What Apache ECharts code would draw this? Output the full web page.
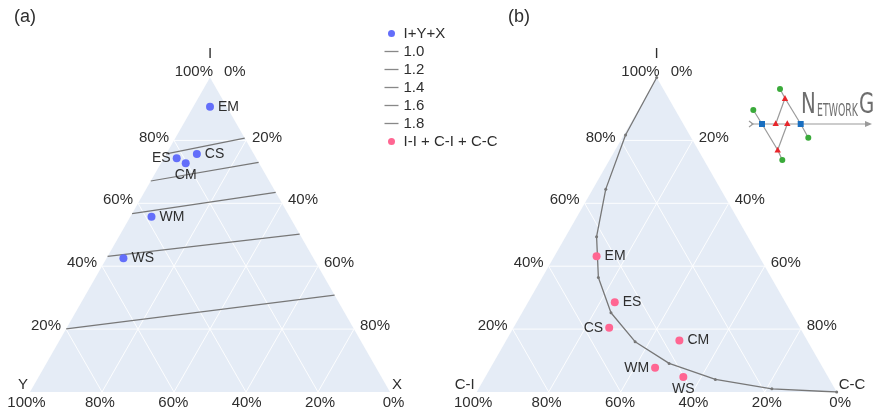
<!DOCTYPE html>
<html>
<head>
<meta charset="utf-8">
<title>Ternary plots</title>
<script src="https://cdn.jsdelivr.net/npm/echarts@6/dist/echarts.min.js"></script>
<style>
  html, body { margin: 0; padding: 0; background: #fff; }
  #chart { width: 891px; height: 414px; }
</style>
</head>
<body>
<div id="chart"></div>
<script>
// sites, same order in both panels
const sites = ['EM', 'CS', 'ES', 'CM', 'WM', 'WS'];

// panel (a): I, Y, X shares (%)
const siteI_a = [90.7, 75.7, 74.3, 72.7, 55.7, 42.5];
const siteY_a = [4.65, 15.8, 22.1, 20.4, 38.4, 52.8];
const siteX_a = [4.65, 8.5, 3.6, 6.9, 5.9, 4.7];

// contour lines of (a): I share where each line meets the left edge (X=0) and the right edge (Y=0)
const contourNames = ['1.0', '1.2', '1.4', '1.6', '1.8'];
const contourLeftI = [75.7, 67.1, 56.7, 43.1, 20.1];
const contourRightI = [80.7, 73.0, 63.5, 50.2, 30.8];

// panel (b): I-I, C-I, C-C shares (%)
const siteII_b = [43.2, 20.4, 28.5, 16.4, 7.7, 4.8];
const siteCI_b = [45.1, 53.0, 47.4, 35.5, 46.6, 40.2];
const siteCC_b = [11.7, 26.6, 24.1, 48.1, 45.7, 55.0];

// reference curve of (b)
const curveII = [100, 81.7, 64.5, 49.4, 36.4, 25.2, 16.0, 9.1, 4.0, 1.0, 0];
const curveCI = [0, 17.8, 31.9, 42.0, 48.0, 50.1, 48.0, 42.0, 31.7, 17.5, 0];
const curveCC = [0, 0.5, 3.6, 8.6, 15.6, 24.7, 36.0, 48.9, 64.3, 81.5, 100];

// axis ticks (%)
const topTicks = [20, 40, 60, 80, 100];
const leftTicks = [0, 20, 40, 60, 80, 100];
const rightTicks = [0, 20, 40, 60, 80];
const gridSteps = [20, 40, 60, 80];

const axisNamesA = ['I', 'Y', 'X'];
const axisNamesB = ['I', 'C-I', 'C-C'];

const H = Math.sqrt(3) / 2;
const FONT = 'Liberation Sans, Arial, sans-serif';
const TXT = '#2e2e2e';

// ternary (top, left, right) -> cartesian (x, y) of a unit triangle
function tern(a, b, c) {
  const s = a + b + c;
  return [(c + a / 2) / s, (a / s) * H];
}

function frameSeries(gi, names) {
  return {
    type: 'custom',
    xAxisIndex: gi,
    yAxisIndex: gi,
    silent: true,
    clip: false,
    z: 0,
    data: [[0, 0]],
    renderItem: function (params, api) {
      const p = v => api.coord(v);
      const kids = [];
      kids.push({
        type: 'polygon',
        shape: { points: [p(tern(1, 0, 0)), p(tern(0, 1, 0)), p(tern(0, 0, 1))] },
        style: { fill: '#e5ecf6' }
      });
      const seg = (u, v) => {
        const a = p(u), b = p(v);
        kids.push({
          type: 'line',
          shape: { x1: a[0], y1: a[1], x2: b[0], y2: b[1] },
          style: { stroke: 'rgba(255,255,255,0.9)', lineWidth: 1 }
        });
      };
      gridSteps.forEach(t => {
        seg(tern(t, 100 - t, 0), tern(t, 0, 100 - t));
        seg(tern(0, t, 100 - t), tern(100 - t, t, 0));
        seg(tern(0, 100 - t, t), tern(100 - t, 0, t));
      });
      const txt = (s, xy, dx, dy, align) => kids.push({
        type: 'text',
        style: {
          text: s, x: xy[0] + dx, y: xy[1] + dy, align: align, verticalAlign: 'middle',
          fontSize: 15, fontFamily: FONT, fill: TXT
        }
      });
      topTicks.forEach(t => {
        const xy = p(tern(t, 100 - t, 0));
        if (t === 100) txt(t + '%', xy, 3, -6, 'right');
        else txt(t + '%', xy, -5, -3, 'right');
      });
      leftTicks.forEach(t => {
        const xy = p(tern(0, t, 100 - t));
        txt(t + '%', xy, (50 - t) / 100 * 7, 11, 'center');
      });
      rightTicks.forEach(t => {
        const xy = p(tern(100 - t, 0, t));
        if (t === 0) txt(t + '%', xy, 14, -6, 'left');
        else txt(t + '%', xy, 6, -3, 'left');
      });
      txt(names[0], p(tern(1, 0, 0)), 0, -23.5, 'center');
      txt(names[1], p(tern(0, 1, 0)), -2, -7, 'right');
      txt(names[2], p(tern(0, 0, 1)), 2, -7, 'left');
      return { type: 'group', children: kids };
    }
  };
}

const labelPosA = { EM: 'right', CS: 'right', ES: 'left', CM: 'bottom', WM: 'right', WS: 'right' };
const labelPosB = { EM: 'right', CS: 'left', ES: 'right', CM: 'right', WM: 'left', WS: 'bottom' };
const labelDist = { right: 4, left: 2, bottom: 1 };

function siteData(tA, tB, tC, posMap) {
  return sites.map((s, i) => ({
    name: s,
    value: tern(tA[i], tB[i], tC[i]),
    label: { position: posMap[s], distance: labelDist[posMap[s]] }
  }));
}

const pointLabel = { show: true, formatter: '{b}', fontSize: 14, color: TXT, fontFamily: FONT };

const series = [
  frameSeries(0, axisNamesA),
  frameSeries(1, axisNamesB)
];

contourNames.forEach((n, i) => {
  series.push({
    name: n,
    type: 'line',
    xAxisIndex: 0,
    yAxisIndex: 0,
    symbol: 'none',
    silent: true,
    z: 3,
    data: [
      tern(contourLeftI[i], 100 - contourLeftI[i], 0),
      tern(contourRightI[i], 0, 100 - contourRightI[i])
    ],
    lineStyle: { color: '#777', width: 1.2 },
    itemStyle: { color: '#888' }
  });
});

series.push({
  name: 'I+Y+X',
  type: 'scatter',
  xAxisIndex: 0,
  yAxisIndex: 0,
  symbolSize: 8,
  z: 5,
  itemStyle: { color: '#636efa', opacity: 1 },
  label: pointLabel,
  data: siteData(siteI_a, siteY_a, siteX_a, labelPosA)
});

series.push({
  name: 'curve',
  type: 'line',
  xAxisIndex: 1,
  yAxisIndex: 1,
  symbol: 'circle',
  symbolSize: 3,
  showSymbol: true,
  silent: true,
  z: 3,
  lineStyle: { color: '#777', width: 1.3 },
  itemStyle: { color: '#777' },
  data: curveII.map((v, i) => tern(v, curveCI[i], curveCC[i]))
});

series.push({
  name: 'I-I + C-I + C-C',
  type: 'scatter',
  xAxisIndex: 1,
  yAxisIndex: 1,
  symbolSize: 8,
  z: 5,
  itemStyle: { color: '#ff6692', opacity: 1 },
  label: pointLabel,
  data: siteData(siteII_b, siteCI_b, siteCC_b, labelPosB)
});

// NetworkG logo, top right
const gLine = '#9a9a9a';
function lk(x1, y1, x2, y2) {
  return { type: 'line', shape: { x1, y1, x2, y2 }, style: { stroke: gLine, lineWidth: 1.2 }, z: 10 };
}
function tri(x, y) {
  return { type: 'polygon', shape: { points: [[x, y - 3.2], [x - 3.2, y + 2.6], [x + 3.2, y + 2.6]] }, style: { fill: '#e8262b' }, z: 11 };
}
function dot(x, y) {
  return { type: 'circle', shape: { cx: x, cy: y, r: 3 }, style: { fill: '#3aaa3a' }, z: 11 };
}
function sq(x, y) {
  return { type: 'rect', shape: { x: x - 3, y: y - 3, width: 6, height: 6 }, style: { fill: '#1a6fc0' }, z: 11 };
}
const logo = [
  lk(751, 124, 867, 124),
  { type: 'polygon', shape: { points: [[865, 121], [872, 124], [865, 127]] }, style: { fill: gLine }, z: 10 },
  { type: 'polyline', shape: { points: [[749, 121], [753, 124], [749, 127]] }, style: { stroke: gLine, lineWidth: 1.2, fill: null }, z: 10 },
  lk(780, 89, 785, 98.3),
  lk(785, 98.3, 775.7, 124),
  lk(785, 98.3, 800.7, 124),
  lk(753.3, 110, 762, 124),
  lk(762, 124, 777.7, 150),
  lk(777.7, 150, 787.3, 124),
  lk(777.7, 150, 782.3, 160),
  lk(800.7, 124, 808.3, 137.7),
  sq(762, 124), sq(800.7, 124),
  tri(785, 98.3), tri(775.7, 123.5), tri(787.3, 123.5), tri(777.7, 150),
  dot(780, 89), dot(753.3, 110), dot(808.3, 137.7), dot(782.3, 160),
  { type: 'text', x: 801, y: 120, scaleX: 0.68, z: 11,
    style: { text: 'N', fontSize: 29, fontFamily: 'DejaVu Sans', fill: '#6e6e6e', align: 'left', verticalAlign: 'bottom' } },
  { type: 'text', x: 817, y: 120, scaleX: 0.52, z: 11,
    style: { text: 'ETWORK', fontSize: 18, fontFamily: 'DejaVu Sans', fill: '#6e6e6e', align: 'left', verticalAlign: 'bottom' } },
  { type: 'text', x: 859, y: 120, scaleX: 0.68, z: 11,
    style: { text: 'G', fontSize: 29, fontFamily: 'DejaVu Sans', fill: '#6e6e6e', align: 'left', verticalAlign: 'bottom' } }
];

// legend: thin bar icons for the contour lines
const lineIcon = 'path://M0,0H14V1.3H0Z';
const legendData = [{ name: 'I+Y+X', icon: 'circle' }]
  .concat(contourNames.map(n => ({ name: n, icon: lineIcon })))
  .concat([{ name: 'I-I + C-I + C-C', icon: 'circle' }]);

const chart = echarts.init(document.getElementById('chart'));
chart.setOption({
  animation: false,
  backgroundColor: '#fff',
  title: [
    { text: '(a)', left: 14, top: 8, padding: 0, textStyle: { fontSize: 18, fontWeight: 'normal', color: TXT, fontFamily: FONT } },
    { text: '(b)', left: 508, top: 8, padding: 0, textStyle: { fontSize: 18, fontWeight: 'normal', color: TXT, fontFamily: FONT } }
  ],
  legend: {
    orient: 'vertical',
    left: 384.5,
    top: 24.5,
    padding: 0,
    itemGap: 0,
    itemWidth: 14,
    itemHeight: 7,
    data: legendData,
    textStyle: { fontSize: 15, color: TXT, fontFamily: FONT, lineHeight: 18 }
  },
  grid: [
    { left: 30, top: 77.5, width: 360, height: 314.5 },
    { left: 476.7, top: 77.5, width: 360, height: 314.5 }
  ],
  xAxis: [
    { type: 'value', gridIndex: 0, min: 0, max: 1, show: false },
    { type: 'value', gridIndex: 1, min: 0, max: 1, show: false }
  ],
  yAxis: [
    { type: 'value', gridIndex: 0, min: 0, max: H, show: false },
    { type: 'value', gridIndex: 1, min: 0, max: H, show: false }
  ],
  graphic: logo,
  series: series
});
</script>
</body>
</html>
